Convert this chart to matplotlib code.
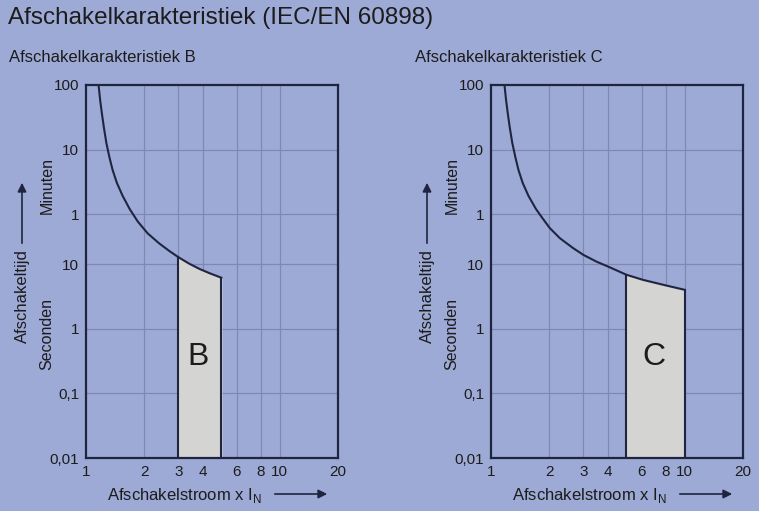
import numpy as np
import matplotlib
matplotlib.use("Agg")
import matplotlib.pyplot as plt

plt.rcParams['font.family'] = ['Liberation Sans', 'DejaVu Sans']

# ---- data (x = multiple of I_N, t = seconds) ----
b_x = [1.161, 1.183, 1.209, 1.238, 1.274, 1.32, 1.372, 1.444, 1.546, 1.68,
       1.849, 2.083, 2.388, 2.692, 3.0, 3.418, 3.851, 4.338, 5.0]
b_t = [6000, 3515, 2134, 1295, 759, 461, 290, 182, 115, 72.1,
       46.2, 30.1, 21.1, 16.1, 12.9, 10.2, 8.5, 7.3, 6.2]

c_x = [1.174, 1.196, 1.222, 1.251, 1.288, 1.335, 1.386, 1.458, 1.561, 1.706,
       1.832, 2.014, 2.268, 2.657, 3.0, 3.507, 4.024, 5.0, 6.1, 8.05, 10.0]
c_t = [6000, 3515, 2134, 1295, 759, 461, 290, 182, 115, 72.1,
       53.3, 36.3, 25.4, 17.8, 14.0, 11.0, 9.23, 6.9, 5.74, 4.69, 4.03]

b_band = (3, 5)
c_band = (5, 10)

x_ticks = [1, 2, 3, 4, 6, 8, 10, 20]
x_labels = ["1", "2", "3", "4", "6", "8", "10", "20"]
y_ticks = [0.01, 0.1, 1, 10, 60, 600, 6000]
y_labels = ["0,01", "0,1", "1", "10", "1", "10", "100"]

BG = "#9eaad6"
DARK = "#1f2540"
GRID = "#7f88b3"
FILL = "#d4d4d2"
TXT = "#1c1c1c"

fig = plt.figure(figsize=(7.59, 5.11), dpi=100, facecolor=BG)


def panel(left, cx, ct, band, letter):
    ax = fig.add_axes([left, 0.1037, 0.332, 0.73])
    ax.set_facecolor(BG)
    ax.set_xscale("log")
    ax.set_yscale("log")
    ax.set_xlim(1, 20)
    ax.set_ylim(0.01, 6000)

    ax.set_xticks(x_ticks)
    ax.set_xticklabels(x_labels)
    ax.set_yticks(y_ticks)
    ax.set_yticklabels(y_labels)
    ax.minorticks_off()
    ax.tick_params(length=0, labelsize=11, colors=TXT, pad=5)

    for v in x_ticks[1:-1]:
        ax.axvline(v, color=GRID, lw=0.9, zorder=0)
    for v in y_ticks[1:-1]:
        ax.axhline(v, color=GRID, lw=0.9, zorder=0)

    for s in ax.spines.values():
        s.set_color(DARK)
        s.set_linewidth(1.6)

    cx = np.array(cx)
    ct = np.array(ct)
    ax.plot(cx, ct, color=DARK, lw=1.5, zorder=3, solid_joinstyle="round")

    m = (cx >= band[0]) & (cx <= band[1])
    fx = cx[m]
    ft = ct[m]
    ax.fill_between(fx, 0.01, ft, color=FILL, zorder=2)
    ax.plot([band[0], band[0]], [0.01, ft[0]], color=DARK, lw=1.5, zorder=3)
    ax.plot([band[1], band[1]], [0.01, ft[-1]], color=DARK, lw=1.5, zorder=3)

    xm = np.sqrt(band[0] * band[1]) * 0.98
    ax.text(xm, 0.37, letter, fontsize=23, color=TXT, ha="center", va="center", zorder=4)
    return ax


panel(0.1133, b_x, b_t, b_band, "B")
panel(0.6469, c_x, c_t, c_band, "C")

fig.text(8 / 759, 1 - 18 / 511, "Afschakelkarakteristiek (IEC/EN 60898)",
         fontsize=17.5, color=TXT, va="center", ha="left")
fig.text(9 / 759, 1 - 57 / 511, "Afschakelkarakteristiek B",
         fontsize=12, color=TXT, va="center", ha="left")
fig.text(415 / 759, 1 - 57 / 511, "Afschakelkarakteristiek C",
         fontsize=12, color=TXT, va="center", ha="left")

for off in (0, 405):
    # side labels
    fig.text((47 + off) / 759, 1 - 186 / 511, "Minuten", rotation=90,
             fontsize=11.5, color=TXT, ha="center", va="center")
    fig.text((47 + off) / 759, 1 - 334 / 511, "Seconden", rotation=90,
             fontsize=11.5, color=TXT, ha="center", va="center")
    fig.text((22 + off) / 759, 1 - 296 / 511, "Afschakeltijd", rotation=90,
             fontsize=12, color=TXT, ha="center", va="center")
    fig.add_artist(matplotlib.patches.FancyArrowPatch(
        ((22 + off) / 759, 1 - 246 / 511), ((22 + off) / 759, 1 - 180 / 511),
        transform=fig.transFigure, arrowstyle="-|>", mutation_scale=13,
        color=DARK, lw=1.2))
    # bottom label
    fig.text((184 + off) / 759, 1 - 495 / 511, r"Afschakelstroom x I$_\mathregular{N}$",
             fontsize=12, color=TXT, ha="center", va="center")
    fig.add_artist(matplotlib.patches.FancyArrowPatch(
        ((272 + off) / 759, 1 - 494 / 511), ((330 + off) / 759, 1 - 494 / 511),
        transform=fig.transFigure, arrowstyle="-|>", mutation_scale=13,
        color=DARK, lw=1.2))

fig.savefig("out.png", dpi=100, facecolor=BG)
